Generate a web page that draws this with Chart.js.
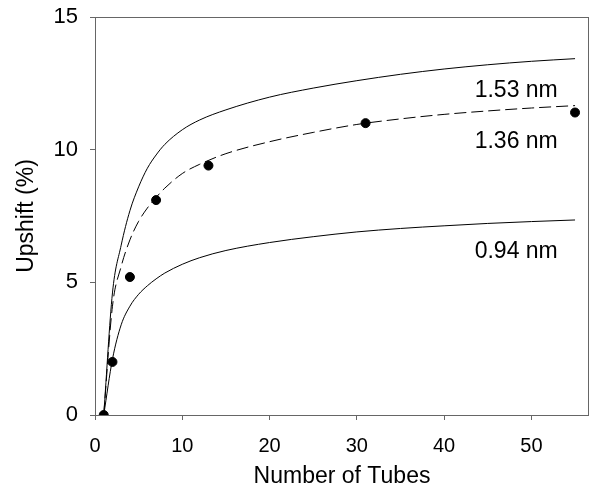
<!DOCTYPE html>
<html>
<head>
<meta charset="utf-8">
<script src="https://cdn.jsdelivr.net/npm/chart.js@4.4.1/dist/chart.umd.min.js"></script>
<style>
  html, body { margin: 0; padding: 0; background: #fff; }
</style>
</head>
<body>
<canvas id="myChart" width="596" height="493"></canvas>
<script>
// measured upshift for each tube count
const tubeCounts = [1, 2, 4, 7, 13, 31, 55];
const measuredUpshift = [0, 2.0, 5.2, 8.1, 9.4, 11.0, 11.4];

// model curves for the three tube diameters
const curveTubes = [1, 2, 3, 4, 5, 6, 7, 8, 10, 12, 15, 20, 25, 30, 35, 40, 45, 50, 55];
const curve153 = [0, 4.6, 6.4, 7.7, 8.6, 9.3, 9.8, 10.2, 10.75, 11.12, 11.5, 11.98, 12.32, 12.6, 12.84, 13.04, 13.2, 13.33, 13.43];
const curve136 = [0, 4.1, 5.6, 6.6, 7.3, 7.8, 8.2, 8.55, 9.1, 9.45, 9.85, 10.3, 10.65, 10.95, 11.16, 11.33, 11.46, 11.57, 11.66];
const curve094 = [0, 2.1, 3.4, 4.1, 4.55, 4.87, 5.13, 5.35, 5.68, 5.93, 6.2, 6.5, 6.72, 6.9, 7.03, 7.13, 7.22, 7.29, 7.35];
const curveNames = ['1.53 nm', '1.36 nm', '0.94 nm'];

const xTicks = [0, 10, 20, 30, 40, 50];
const yTicks = [0, 5, 10, 15];

const FONT = "'Liberation Sans', Arial, sans-serif";
const AXIS_GREY = '#666666';

function toPoints(xs, ys) {
    return xs.map((x, i) => ({ x: x, y: ys[i] }));
}

function curveDataset(label, ys, dash) {
    return {
        type: 'line',
        label: label,
        data: toPoints(curveTubes, ys),
        borderColor: '#000',
        borderWidth: 1,
        borderDash: dash,
        pointRadius: 0,
        cubicInterpolationMode: 'monotone',
        fill: false,
        order: 2
    };
}

// box round the plot area and the diameter labels next to each curve
const frameAndNames = {
    id: 'frameAndNames',
    afterDatasetsDraw(chart) {
        const ctx = chart.ctx;
        const a = chart.chartArea;
        const xs = chart.scales.x, ys = chart.scales.y;
        ctx.save();
        ctx.strokeStyle = AXIS_GREY;
        ctx.lineWidth = 1;
        ctx.strokeRect(Math.round(a.left) + 0.5, Math.round(a.top) + 0.5,
            Math.round(a.right - a.left) - 1, Math.round(a.bottom - a.top));
        ctx.fillStyle = '#000';
        ctx.font = '23px ' + FONT;
        ctx.textAlign = 'left';
        ctx.textBaseline = 'alphabetic';
        const spots = [[43.5, 11.97], [43.5, 10.08], [43.5, 5.91]];
        curveNames.forEach((name, i) => {
            ctx.fillText(name, xs.getPixelForValue(spots[i][0]), ys.getPixelForValue(spots[i][1]));
        });
        ctx.restore();
    }
};

const ctx = document.getElementById('myChart').getContext('2d');
const myChart = new Chart(ctx, {
    type: 'scatter',
    data: {
        datasets: [
            {
                label: 'measured',
                data: toPoints(tubeCounts, measuredUpshift),
                backgroundColor: '#000',
                borderColor: '#000',
                pointRadius: 4.5,
                pointHoverRadius: 4.5,
                showLine: false,
                order: 0
            },
            curveDataset(curveNames[0], curve153, []),
            curveDataset(curveNames[1], curve136, [12, 5]),
            curveDataset(curveNames[2], curve094, [])
        ]
    },
    options: {
        responsive: false,
        animation: false,
        layout: { padding: { top: 17, right: 7, left: 0, bottom: 0 } },
        plugins: {
            legend: { display: false },
            tooltip: { enabled: false }
        },
        scales: {
            x: {
                type: 'linear',
                min: 0,
                max: 56.6,
                afterFit(scale) {
                    scale.height = 78;
                    scale.paddingLeft = 0;
                    scale.paddingRight = 0;
                },
                afterBuildTicks(scale) { scale.ticks = xTicks.map(v => ({ value: v })); },
                ticks: {
                    includeBounds: false,
                    padding: 14,
                    color: '#000',
                    font: { family: FONT, size: 20 }
                },
                grid: {
                    drawOnChartArea: false,
                    drawTicks: true,
                    tickLength: 5,
                    color: AXIS_GREY
                },
                border: { display: false },
                title: {
                    display: true,
                    text: 'Number of Tubes',
                    color: '#000',
                    font: { family: FONT, size: 23 },
                    padding: { top: 0, bottom: 3 }
                }
            },
            y: {
                type: 'linear',
                min: 0,
                max: 15,
                afterFit(scale) {
                    scale.width = 95;
                    scale.paddingTop = 0;
                    scale.paddingBottom = 0;
                },
                afterBuildTicks(scale) { scale.ticks = yTicks.map(v => ({ value: v })); },
                ticks: {
                    padding: 12,
                    color: '#000',
                    font: { family: FONT, size: 22 }
                },
                grid: {
                    drawOnChartArea: false,
                    drawTicks: true,
                    tickLength: 5,
                    color: AXIS_GREY
                },
                border: { display: false },
                title: {
                    display: true,
                    text: 'Upshift (%)',
                    color: '#000',
                    font: { family: FONT, size: 23 },
                    padding: { top: 13, bottom: 0 }
                }
            }
        }
    },
    plugins: [frameAndNames]
});
</script>
</body>
</html>
